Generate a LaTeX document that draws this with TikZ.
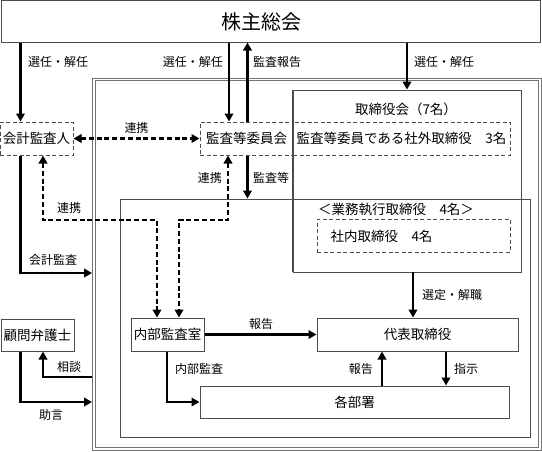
\documentclass[tikz,border=0pt]{standalone}
\usepackage{fontspec}
\setmainfont{Noto Sans CJK JP}
\usetikzlibrary{arrows.meta}
\begin{document}
\begin{tikzpicture}[x=1pt,y=-1pt,
  box/.style={draw=black!70, line width=1pt, inner sep=0pt, font=\fontsize{13.5}{15}\selectfont},
  dbox/.style={box, dashed, dash pattern=on 4pt off 2.5pt},
  lbl/.style={inner sep=0pt, font=\fontsize{12}{14}\selectfont},
  arr/.style={line width=2.6pt, -{Triangle[length=8pt,width=8.5pt]}},
  darr/.style={line width=2.6pt, dash pattern=on 5pt off 2.8pt, {Triangle[length=8pt,width=8.5pt]}-{Triangle[length=8pt,width=8.5pt]}},
  frm/.style={draw=black!55, line width=0.9pt, inner sep=0pt}
]
\useasboundingbox (0,0) rectangle (542,451);

% frames
\node[frm, minimum width=448.5pt, minimum height=372.5pt] (frame) at (316.75,264.25) {};
\node[frm, minimum width=442.5pt, minimum height=367.2pt] (frame2) at (316.75,264.1) {};
\node[frm, draw=black!70, minimum width=410pt, minimum height=238pt] (gyomu) at (325,318) {};
\node[frm, draw=black!70, minimum width=228pt, minimum height=182pt] (tori) at (407,181) {};

% top box
\node[box, minimum width=539pt, minimum height=42pt] (kabu) at (270.5,21) {};
\node[inner sep=0pt, font=\fontsize{20}{22}\selectfont] (kabut) at (261,21.5) {株主総会};

% boxes
\node[dbox, fill=white, minimum width=73pt, minimum height=33pt] (kaikei) at (36.5,138.5) {会計監査人};
\node[dbox, minimum width=93pt, minimum height=33pt] (kansa) at (246.5,138.5) {監査等委員会};
\node[dbox, minimum width=217pt, minimum height=33pt] (shagai) at (401.5,138.5) {監査等委員である社外取締役　3名};
\draw[black!70, line width=1pt] (tori.north west) -- (tori.south west);
\node[dbox, minimum width=193pt, minimum height=33pt] (shanai) at (413.5,235.5) {};
\node[box, draw=none, anchor=west] (shanait) at (330,236) {社内取締役　4名};
\node[box, draw=none] (torit) at (406,109) {取締役会（7名）};
\node[box, draw=none] (gyomut) at (396,209.5) {＜業務執行取締役　4名＞};

\node[box, fill=white, minimum width=73pt, minimum height=33pt] (naibu) at (167.5,334.5) {内部監査室};
\node[box, fill=white, minimum width=201pt, minimum height=33pt] (daihyo) at (417.5,334.5) {代表取締役};
\node[box, fill=white, minimum width=309pt, minimum height=32pt] (kaku) at (354.5,402) {各部署};
\node[box, fill=white, minimum width=73pt, minimum height=32pt] (komon) at (37.5,335) {顧問弁護士};

% coordinates
\coordinate (xA) at (20.5,0);
\coordinate (xB) at (229,0);
\coordinate (xC) at (247.5,0);
\coordinate (xD) at (407,0);
\coordinate (xE) at (413,0);
\coordinate (xF) at (382,0);
\coordinate (xG) at (446,0);
\coordinate (xH) at (167,0);
\coordinate (xL) at (43,0);
\coordinate (xK) at (228,0);
\coordinate (xN1) at (157,0);
\coordinate (xN2) at (179,0);
\coordinate (yD) at (0,220);
\coordinate (yK) at (0,273);
\coordinate (yS) at (0,377);
\coordinate (yJ) at (0,402);

% solid arrows
\draw[arr] (kabu.south -| xA) -- (kaikei.north -| xA);
\draw[arr] (kabu.south -| xB) -- (kansa.north -| xB);
\draw[arr] (kansa.north -| xC) -- (kabu.south -| xC);
\draw[arr] (kabu.south -| xD) -- (tori.north -| xD);
\draw[arr] (kansa.south -| xC) -- (gyomu.north -| xC);
\draw[arr] (kaikei.south -| xA) -- (xA |- yK) -- (frame.west |- yK);
\draw[arr] (tori.south -| xE) -- (daihyo.north -| xE);
\draw[arr] (naibu.east) -- (daihyo.west);
\draw[arr] (kaku.north -| xF) -- (daihyo.south -| xF);
\draw[arr] (daihyo.south -| xG) -- (kaku.north -| xG);
\draw[arr] (naibu.south -| xH) -- (xH |- kaku.west) -- (kaku.west);
\draw[arr] (frame.west |- yS) -- (xL |- yS) -- (komon.south -| xL);
\draw[arr] (komon.south -| xA) -- (xA |- yJ) -- (frame.west |- yJ);

% dashed arrows
\draw[darr] (kaikei.east) -- (kansa.west);
\draw[darr] (kaikei.south -| xL) -- (xL |- yD) -- (xN1 |- yD) -- (naibu.north -| xN1);
\draw[darr] (kansa.south -| xK) -- (xK |- yD) -- (xN2 |- yD) -- (naibu.north -| xN2);

% labels
\node[lbl, anchor=west] (l1) at (28,62) {選任・解任};
\node[lbl, anchor=east] (l2) at (223,62) {選任・解任};
\node[lbl, anchor=west] (l3) at (253,62) {監査報告};
\node[lbl, anchor=west] (l4) at (414,62) {選任・解任};
\node[lbl] (l5) at (136.5,128) {連携};
\node[lbl, anchor=east] (l6) at (222,178) {連携};
\node[lbl, anchor=west] (l7) at (253,178) {監査等};
\node[lbl, anchor=west] (l8) at (57,208) {連携};
\node[lbl, anchor=west] (l9) at (29,260) {会計監査};
\node[lbl] (l10) at (261,324) {報告};
\node[lbl, anchor=west] (l11) at (422,295) {選定・解職};
\node[lbl, anchor=west] (l12) at (175,369) {内部監査};
\node[lbl, anchor=east] (l13) at (373,369) {報告};
\node[lbl, anchor=west] (l14) at (454,369) {指示};
\node[lbl, anchor=west] (l15) at (57,367) {相談};
\node[lbl] (l16) at (51,415) {助言};
\end{tikzpicture}
\end{document}
